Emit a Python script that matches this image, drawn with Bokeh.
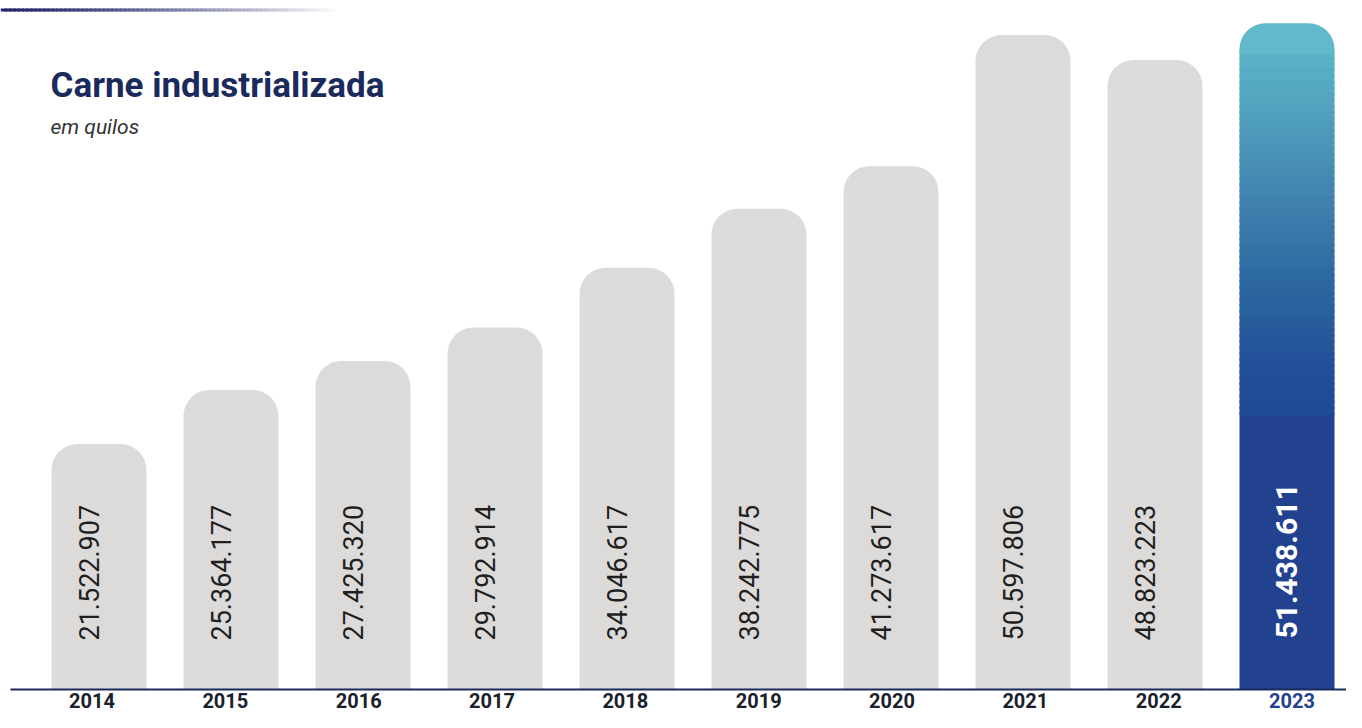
import numpy as np
from bokeh.plotting import figure
from bokeh.models import ColumnDataSource, Range1d
from bokeh.core.properties import value
from bokeh.embed import file_html
from bokeh.resources import INLINE

# ---------------- data ----------------
years = ["2014", "2015", "2016", "2017", "2018", "2019", "2020", "2021", "2022", "2023"]
values = [21522907, 25364177, 27425320, 29792914, 34046617,
          38242775, 41273617, 50597806, 48823223, 51438611]
title_text = "Carne industrializada"
subtitle_text = "em quilos"

labels = [f"{v:,}".replace(",", ".") for v in values]

# ---------------- geometry helpers ----------------
W, H = 1346, 712
PX_PER_UNIT = 14.064e-6          # vertical pixels per kilo
Y0 = 2.4246e6                    # value at bottom edge of the figure
X0 = -0.7462                     # category index at left edge
PX_PER_CAT = 132.0

def y_of_top(px_from_top):
    return Y0 + (H - px_from_top) / PX_PER_UNIT

def x_of_px(px_from_left):
    return X0 + px_from_left / PX_PER_CAT

BASE = y_of_top(689)             # baseline of the bars
BAR_W = 95 / PX_PER_CAT
RADIUS = 26

p = figure(width=W, height=H, output_backend="svg", toolbar_location=None,
           x_range=Range1d(X0, X0 + W / PX_PER_CAT),
           y_range=Range1d(Y0, Y0 + H / PX_PER_UNIT),
           x_axis_location=None, y_axis_location=None,
           min_border=0, outline_line_color=None)
p.grid.visible = False
p.background_fill_color = "white"
p.border_fill_color = "white"

n = len(years)
idx = list(range(n))
hl = n - 1

gray_src = ColumnDataSource(dict(x=idx[:hl], top=values[:hl], lab=labels[:hl]))

# grey bars
p.vbar(x="x", top="top", bottom=BASE, width=BAR_W, source=gray_src,
       fill_color="#dcdbda", line_color=None,
       border_radius=(RADIUS, RADIUS, 0, 0))

# highlighted bar with vertical gradient
vtop = values[hl]
grad_len = 392 / PX_PER_UNIT
grad_end = vtop - grad_len
cap = 30 / PX_PER_UNIT
stops_t = [0.0, 0.22, 0.48, 0.66, 0.86, 1.0]
stops_c = [(98, 189, 204), (82, 163, 191), (63, 127, 174),
           (45, 105, 161), (35, 82, 154), (30, 74, 147)]

def interp(t):
    r = np.interp(t, stops_t, [c[0] for c in stops_c])
    g = np.interp(t, stops_t, [c[1] for c in stops_c])
    b = np.interp(t, stops_t, [c[2] for c in stops_c])
    return "#%02x%02x%02x" % (int(r), int(g), int(b))

p.vbar(x=[hl], top=[grad_end + 3 / PX_PER_UNIT], bottom=BASE, width=BAR_W,
       fill_color="#22418f", line_color=None)
nsl = 60
edges = np.linspace(vtop - cap, grad_end, nsl + 1)
tops = edges[:-1] + 2.5 / PX_PER_UNIT
bots = edges[1:]
cols = [interp((vtop - (a + b) / 2) / grad_len) for a, b in zip(edges[:-1], edges[1:])]
p.vbar(x=[hl] * nsl, top=list(tops), bottom=list(bots), width=BAR_W,
       fill_color=cols, line_color=None)
p.vbar(x=[hl], top=[vtop], bottom=[vtop - cap], width=BAR_W,
       fill_color=interp(0.02), line_color=None,
       border_radius=(RADIUS, RADIUS, 0, 0))

# value labels (rotated)
p.text(x="x", y=BASE, text="lab", source=gray_src, angle=np.pi / 2,
       text_align="left", text_baseline="middle", y_offset=-49, x_offset=-9.5,
       text_font=value("Roboto"), text_font_size="27px", text_color="#1f1f1f")
p.text(x=[hl], y=[BASE], text=[labels[hl]], angle=np.pi / 2,
       text_align="left", text_baseline="middle", y_offset=-51, x_offset=0,
       text_font=value("Roboto"), text_font_style="bold", text_font_size="30px",
       text_color="white")

# baseline axis line
p.segment(x0=[x_of_px(10)], x1=[x_of_px(W)], y0=[BASE], y1=[BASE],
          line_color="#1b2a5c", line_width=2)

# year labels
shift = [-7 + 1.333 * i for i in idx]
ycols = ["#1a1f2b"] * hl + ["#22418f"]
p.text(x=idx, y=[y_of_top(700)] * n, text=years, x_offset=shift,
       text_align="center", text_baseline="middle",
       text_font=value("Roboto"), text_font_style="bold", text_font_size="20px",
       text_color=ycols)

# decorative fading line at the top-left
nseg = 80
xs = np.linspace(0, 340, nseg + 1)
lc = []
for k in range(nseg):
    t = k / (nseg - 1)
    r = int(35 + (255 - 35) * t ** 1.3)
    g = int(37 + (255 - 37) * t ** 1.3)
    b = int(106 + (255 - 106) * t ** 1.3)
    lc.append("#%02x%02x%02x" % (r, g, b))
p.segment(x0=[x_of_px(v) for v in xs[:-1]], x1=[x_of_px(v + 2.5) for v in xs[1:]],
          y0=[y_of_top(9.5)] * nseg, y1=[y_of_top(9.5)] * nseg,
          line_color=lc, line_width=3)

# title and subtitle
p.text(x=[x_of_px(50)], y=[y_of_top(85)], text=[title_text],
       text_align="left", text_baseline="middle",
       text_font=value("Roboto"), text_font_style="bold",
       text_font_size="35px", text_color="#1b2a5c")
p.text(x=[x_of_px(50)], y=[y_of_top(126)], text=[subtitle_text],
       text_align="left", text_baseline="middle",
       text_font=value("Roboto"), text_font_style="italic",
       text_font_size="21px", text_color="#333333")

open("out.html", "w").write(file_html(p, INLINE))
